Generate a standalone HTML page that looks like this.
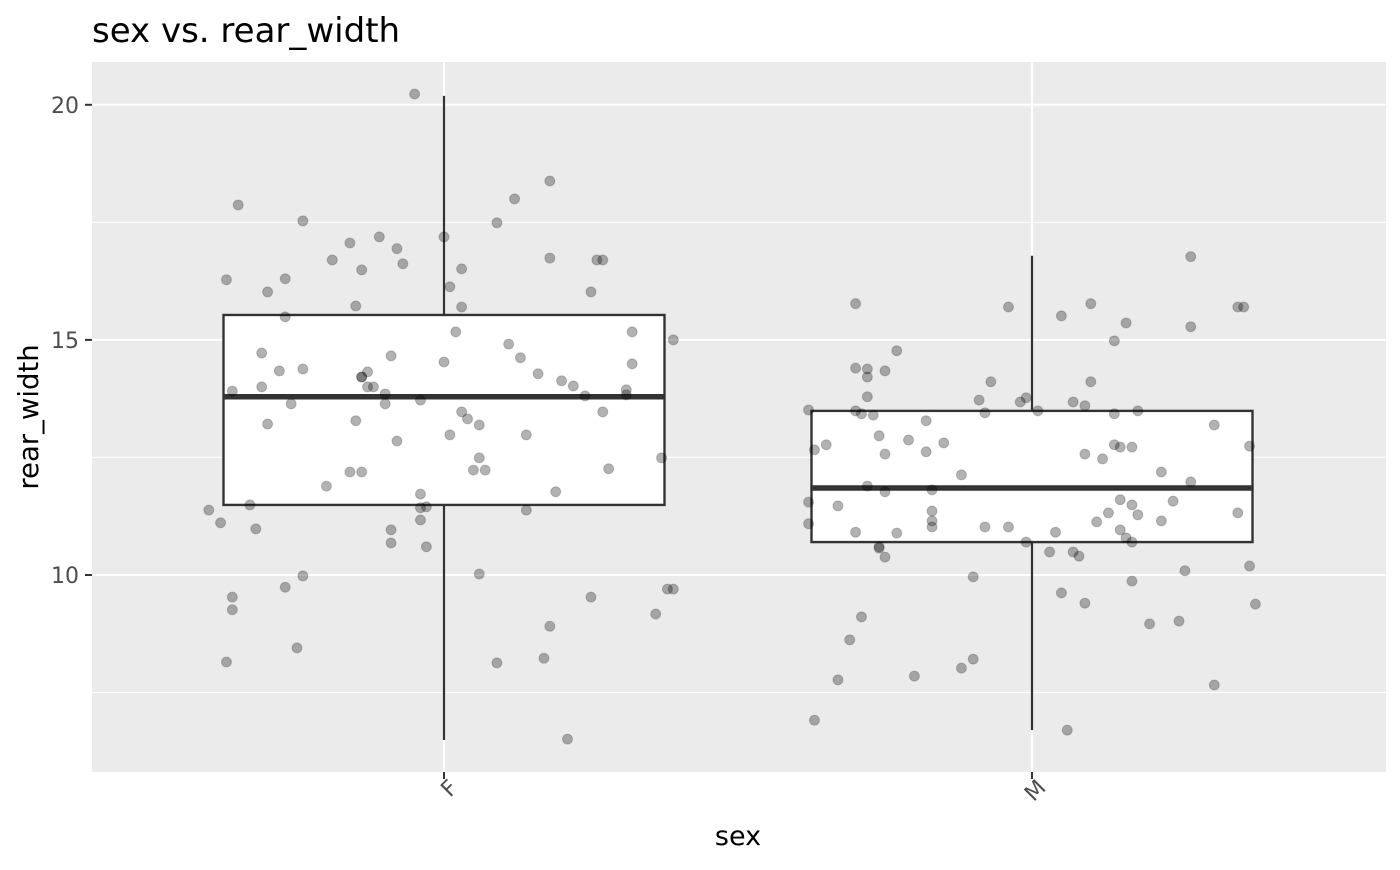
<!DOCTYPE html>
<html><head><meta charset="utf-8"><style>
body{margin:0;background:#fff;}
svg text{font-family:"DejaVu Sans","Liberation Sans",sans-serif;}
</style></head><body>
<svg id="chart" width="1400" height="865" xmlns="http://www.w3.org/2000/svg">
<text x="92" y="42" font-size="34" fill="#000">sex vs. rear_width</text>
<rect x="92" y="62" width="1294" height="710" fill="#ebebeb"/>
<g id="grid"></g><g id="boxes"></g><g id="points"></g><g id="axes"></g>
<text x="738" y="845" font-size="27" text-anchor="middle">sex</text>
<text transform="translate(38,417) rotate(-90)" font-size="27.5" text-anchor="middle">rear_width</text>
</svg>
<script>
const categories=["F","M"];
const yTicks=[10,15,20];
const yMinor=[7.5,12.5,17.5];
const boxLower=[11.49,10.70];
const boxMedian=[13.79,11.85];
const boxUpper=[15.53,13.49];
const whiskLow=[6.49,6.70];
const whiskHigh=[20.19,16.79];
const fJitter=[-0.40,-0.37,-0.35,-0.38,-0.37,-0.36,-0.36,-0.36,-0.33,-0.32,-0.31,-0.31,-0.30,-0.30,-0.28,-0.27,-0.27,-0.27,-0.26,-0.25,-0.24,-0.24,-0.24,-0.20,-0.19,-0.16,-0.16,-0.15,-0.15,-0.14,-0.14,-0.14,-0.14,-0.13,-0.13,-0.12,-0.11,-0.10,-0.10,-0.09,-0.09,-0.08,-0.08,-0.09,-0.07,-0.05,-0.04,-0.04,-0.04,-0.04,-0.03,-0.03,0.00,0.00,0.01,0.01,0.02,0.03,0.03,0.03,0.04,0.05,0.06,0.06,0.06,0.07,0.09,0.09,0.11,0.12,0.13,0.14,0.14,0.16,0.17,0.18,0.18,0.18,0.19,0.20,0.21,0.22,0.24,0.25,0.25,0.26,0.27,0.27,0.28,0.31,0.31,0.32,0.32,0.36,0.37,0.38,0.39,0.39];
const fValues=[11.38,16.28,17.87,11.11,8.15,9.53,9.26,13.91,11.49,10.98,14.0,14.72,16.02,13.21,14.34,15.49,16.30,9.74,13.64,8.45,17.53,9.98,14.38,11.89,16.70,17.06,12.19,15.72,13.28,14.21,14.21,16.49,12.19,14.0,14.32,14.0,17.19,13.64,13.85,10.96,10.68,12.85,16.94,14.66,16.62,20.23,13.72,11.72,11.43,11.17,11.45,10.60,14.53,17.19,12.98,16.13,15.17,13.47,16.51,15.70,13.32,12.23,13.19,12.49,10.02,12.23,8.13,17.49,14.91,18.0,14.62,12.98,11.38,14.28,8.23,8.91,16.74,18.38,11.77,14.13,6.51,14.02,13.81,16.02,9.53,16.70,16.70,13.47,12.26,13.83,13.94,14.49,15.17,9.17,12.49,9.70,15.0,9.70];
const mJitter=[-0.38,-0.38,-0.38,-0.37,-0.37,-0.35,-0.33,-0.33,-0.31,-0.30,-0.30,-0.30,-0.30,-0.29,-0.29,-0.28,-0.28,-0.28,-0.28,-0.27,-0.26,-0.26,-0.26,-0.25,-0.25,-0.25,-0.25,-0.23,-0.23,-0.21,-0.20,-0.18,-0.18,-0.17,-0.17,-0.17,-0.17,-0.15,-0.12,-0.12,-0.10,-0.10,-0.09,-0.08,-0.08,-0.07,-0.04,-0.04,-0.02,-0.01,-0.01,0.01,0.03,0.04,0.05,0.05,0.06,0.07,0.07,0.08,0.09,0.09,0.09,0.10,0.10,0.11,0.12,0.13,0.14,0.14,0.14,0.15,0.15,0.15,0.16,0.16,0.17,0.17,0.17,0.17,0.18,0.18,0.20,0.22,0.22,0.24,0.25,0.26,0.27,0.27,0.27,0.31,0.31,0.35,0.35,0.36,0.37,0.37,0.38];
const mValues=[11.09,13.51,11.55,12.66,6.91,12.77,7.77,11.47,8.62,10.91,15.77,13.49,14.40,9.11,13.43,11.89,14.38,13.79,14.21,13.40,10.60,10.57,12.96,11.77,14.34,12.57,10.38,10.89,14.77,12.87,7.85,13.28,12.62,11.02,11.36,11.81,11.15,12.81,12.13,8.02,9.96,8.21,13.72,13.45,11.02,14.11,11.02,15.70,13.68,13.77,10.70,13.49,10.49,10.91,15.51,9.62,6.70,13.68,10.49,10.40,12.57,13.60,9.40,15.77,14.11,11.13,12.47,11.32,13.43,12.77,14.98,10.96,12.72,11.60,10.79,15.36,10.70,12.72,9.87,11.49,13.49,11.28,8.96,11.15,12.19,11.57,9.02,10.09,15.28,16.77,11.98,7.66,13.19,11.32,15.70,15.70,10.19,12.74,9.38];

const NS='http://www.w3.org/2000/svg';
const X0=92,X1=1386,Y0=62,Y1=772,yMin=5.81,yMax=20.91;
const y=v=>Y1-(v-yMin)/(yMax-yMin)*(Y1-Y0);
const xc=(i,off)=>444+(i+off)*588;
function mk(tag,attrs,parent){const e=document.createElementNS(NS,tag);for(const k in attrs)e.setAttribute(k,attrs[k]);parent.appendChild(e);return e;}
const grid=document.getElementById('grid'),boxes=document.getElementById('boxes'),pts=document.getElementById('points'),axes=document.getElementById('axes');
yMinor.forEach(v=>{const l=mk('line',{x1:X0,x2:X1,y1:y(v),y2:y(v),stroke:'#fff','stroke-width':1},grid);

});
yTicks.forEach(v=>{const l=mk('line',{x1:X0,x2:X1,y1:y(v),y2:y(v),stroke:'#fff','stroke-width':2},grid);


const t=mk('line',{x1:85,x2:92,y1:y(v),y2:y(v),stroke:'#333','stroke-width':2},axes);


const tx=mk('text',{x:79,y:y(v)+8,'font-size':22,'text-anchor':'end',fill:'#4d4d4d'},axes);tx.textContent=v;

});
categories.forEach((c,i)=>{const cx=xc(i,0);
const g=mk('line',{x1:cx,x2:cx,y1:Y0,y2:Y1,stroke:'#fff','stroke-width':2},grid);


const t=mk('line',{x1:cx,x2:cx,y1:Y1,y2:Y1+7,stroke:'#333','stroke-width':2},axes);


const tx=mk('text',{transform:`translate(${cx+15},${Y1+17}) rotate(-45)`,'font-size':22,'text-anchor':'end',fill:'#4d4d4d'},axes);tx.textContent=c;


const hw=0.375*588;
const w=mk('line',{x1:cx,x2:cx,y1:y(whiskHigh[i]),y2:y(whiskLow[i]),stroke:'#333','stroke-width':2.2},boxes);


const r=mk('rect',{x:cx-hw,y:y(boxUpper[i]),width:2*hw,height:y(boxLower[i])-y(boxUpper[i]),fill:'#fff',stroke:'#333','stroke-width':2.4},boxes);


const m=mk('line',{x1:cx-hw,x2:cx+hw,y1:y(boxMedian[i]),y2:y(boxMedian[i]),stroke:'#333','stroke-width':5.5},boxes);

});
[[fJitter,fValues],[mJitter,mValues]].forEach(([js,vs],i)=>{vs.forEach((v,k)=>{
const p=mk('circle',{cx:xc(i,js[k]),cy:y(v),r:5,fill:'rgba(0,0,0,0.3)',stroke:'rgba(0,0,0,0.2)','stroke-width':1},pts);

});});
</script>
</body></html>
